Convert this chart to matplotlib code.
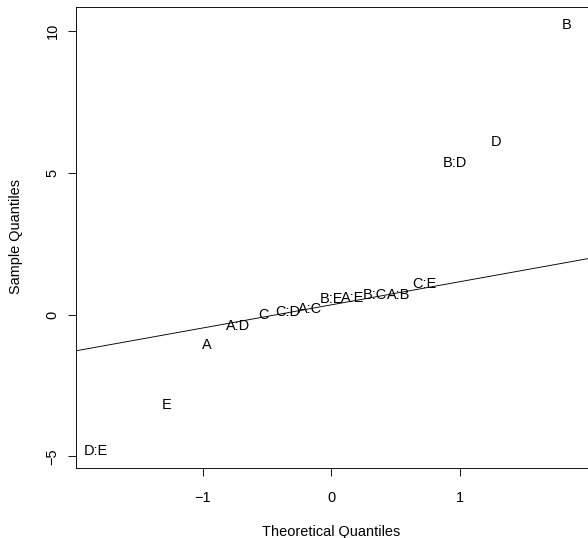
import matplotlib
matplotlib.use('Agg')
import matplotlib.pyplot as plt
import numpy as np
from statistics import NormalDist

plt.rcParams['font.family'] = ['Liberation Sans', 'DejaVu Sans']
plt.rcParams['font.size'] = 14.5

# effect labels and their values, ordered from lowest to highest
labels = ['D:E', 'E', 'A', 'A:D', 'C', 'C:D', 'A:C', 'B:E', 'A:E',
          'B:C', 'A:B', 'C:E', 'B:D', 'D', 'B']
effects = [-4.82, -3.17, -1.06, -0.41, 0.0, 0.08, 0.21, 0.56, 0.57,
           0.68, 0.70, 1.09, 5.35, 6.09, 10.2]

n = len(effects)
nd = NormalDist()
theo = np.array([nd.inv_cdf((i - 0.5) / n) for i in range(1, n + 1)])
samp = np.array(effects)

# qqline through the quartiles
q1, q3 = np.quantile(samp, [0.25, 0.75])
x1, x3 = nd.inv_cdf(0.25), nd.inv_cdf(0.75)
slope = (q3 - q1) / (x3 - x1)
intercept = q1 - slope * x1

W, H = 588, 538
fig = plt.figure(figsize=(W / 72, H / 72), dpi=72)
ax = fig.add_axes([75.5 / W, 1 - 467.5 / H, (588 - 75.5) / W, (467.5 - 7) / H])

for x, y, lab in zip(theo, samp, labels):
    ax.text(x, y, lab, ha='center', va='center')

xs = np.array([-3, 3])
ax.plot(xs, intercept + slope * xs, color='black', lw=0.9)

ax.set_xlim(-1.99, 2.0)
ax.set_ylim(-5.39, 10.85)
ax.set_xticks([-1, 0, 1])
ax.set_xticklabels(['\u22121', '0', '1'])
ax.set_yticks([-5, 0, 5, 10])
ax.set_yticklabels(['\u22125', '0', '5', '10'], rotation=90, va='center')
ax.tick_params(direction='out', length=8, width=0.9, pad=15)
ax.tick_params(axis='y', pad=8)
for s in ['left', 'bottom', 'top']:
    ax.spines[s].set_linewidth(0.9)
ax.spines['right'].set_visible(False)

fig.text(331 / W, 1 - 532 / H, 'Theoretical Quantiles', ha='center', va='center')
fig.text(16 / W, 1 - 237 / H, 'Sample Quantiles', ha='center', va='center', rotation=90)

fig.savefig('out.png', dpi=72)
